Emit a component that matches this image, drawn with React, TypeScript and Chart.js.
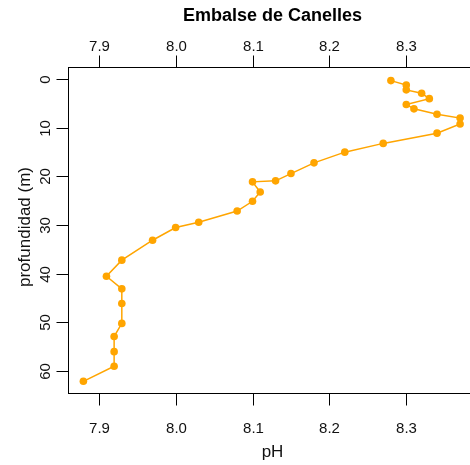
import { useEffect, useRef } from "react";
import { Chart, registerables } from "chart.js";

Chart.register(...registerables);

const depths = [0.3, 1.2, 2.2, 2.9, 4.0, 5.2, 6.1, 7.2, 8.0, 9.2, 11.1, 13.2, 15.0, 17.2, 19.4, 20.9, 21.1, 23.2, 25.1, 27.1, 29.4, 30.5, 33.1, 37.2, 40.5, 43.1, 46.1, 50.2, 52.9, 56.0, 59.0, 62.1];
const phValues = [8.28, 8.30, 8.30, 8.32, 8.33, 8.30, 8.31, 8.34, 8.37, 8.37, 8.34, 8.27, 8.22, 8.18, 8.15, 8.13, 8.10, 8.11, 8.10, 8.08, 8.03, 8.00, 7.97, 7.93, 7.91, 7.93, 7.93, 7.93, 7.92, 7.92, 7.92, 7.88];

const phTicks = [7.9, 8.0, 8.1, 8.2, 8.3];
const phTickLabels = ["7.9", "8.0", "8.1", "8.2", "8.3"];
const depthTicks = [0, 10, 20, 30, 40, 50, 60];
const depthTickLabels = ["0", "10", "20", "30", "40", "50", "60"];

const titleText = "Embalse de Canelles";
const xTitleText = "pH";
const yTitleText = "profundidad (m)";

const FONT = "'Liberation Sans', Arial, Helvetica, sans-serif";

const axesPlugin = {
  id: "rAxes",
  afterDraw(chart: any) {
    const ctx = chart.ctx as CanvasRenderingContext2D;
    const { left, top, right, bottom } = chart.chartArea;
    const xs = chart.scales.x;
    const ys = chart.scales.y;
    ctx.save();
    ctx.strokeStyle = "#000";
    ctx.lineWidth = 1;
    // box
    ctx.strokeRect(Math.round(left) + 0.5, Math.round(top) + 0.5, Math.round(right - left), Math.round(bottom - top));
    ctx.fillStyle = "#111";
    ctx.textAlign = "center";
    ctx.textBaseline = "middle";
    ctx.font = `15px ${FONT}`;
    phTicks.forEach((t, i) => {
      const px = Math.round(xs.getPixelForValue(t)) + 0.5;
      ctx.beginPath();
      ctx.moveTo(px, Math.round(bottom) + 0.5);
      ctx.lineTo(px, Math.round(bottom) + 12.5);
      ctx.moveTo(px, Math.round(top) + 0.5);
      ctx.lineTo(px, Math.round(top) - 11.5);
      ctx.stroke();
      ctx.fillText(phTickLabels[i], px, 429);
      ctx.fillText(phTickLabels[i], px, 46.5);
    });
    depthTicks.forEach((t, i) => {
      const py = Math.round(ys.getPixelForValue(t)) + 0.5;
      ctx.beginPath();
      ctx.moveTo(Math.round(left) + 0.5, py);
      ctx.lineTo(Math.round(left) - 11.5, py);
      ctx.stroke();
      ctx.save();
      ctx.translate(46, py);
      ctx.rotate(-Math.PI / 2);
      ctx.fillText(depthTickLabels[i], 0, 0);
      ctx.restore();
    });
    // titles
    const cx = (left + right) / 2;
    ctx.font = `bold 18px ${FONT}`;
    ctx.fillStyle = "#000";
    ctx.fillText(titleText, cx, 16);
    ctx.font = `17px ${FONT}`;
    ctx.fillStyle = "#111";
    ctx.fillText(xTitleText, cx, 452);
    ctx.save();
    ctx.translate(25, (top + bottom) / 2 - 3);
    ctx.rotate(-Math.PI / 2);
    ctx.fillText(yTitleText, 0, 0);
    ctx.restore();
    ctx.restore();
  },
};

export default function App() {
  const ref = useRef<HTMLCanvasElement | null>(null);
  useEffect(() => {
    if (!ref.current) return;
    const chart = new Chart(ref.current, {
      type: "scatter",
      data: {
        datasets: [
          {
            data: phValues.map((v, i) => ({ x: v, y: depths[i] })),
            showLine: true,
            borderColor: "#FFA500",
            backgroundColor: "#FFA500",
            borderWidth: 1.5,
            pointRadius: 3.8,
            pointBorderWidth: 0,
            pointBackgroundColor: "#FFA500",
          },
        ],
      },
      options: {
        responsive: false,
        animation: false,
        layout: { padding: { left: 68, top: 67, right: 13, bottom: 72 } },
        plugins: { legend: { display: false }, tooltip: { enabled: false }, title: { display: false } },
        scales: {
          x: { type: "linear", min: 7.86, max: 8.392, display: false },
          y: { type: "linear", reverse: true, min: -2.5, max: 64.5, display: false },
        },
      },
      plugins: [axesPlugin],
    });
    return () => chart.destroy();
  }, []);
  return (
    <div style={{ position: "absolute", left: 0, top: 0, width: 470, height: 465, overflow: "hidden", background: "#fff" }}>
      <canvas ref={ref} width={490} height={465} style={{ display: "block", width: 490, height: 465 }} />
    </div>
  );
}
